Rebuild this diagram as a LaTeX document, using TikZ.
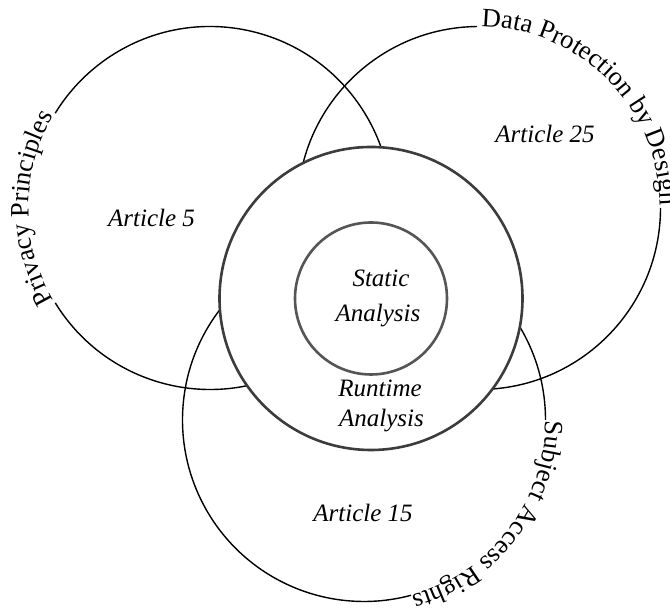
\documentclass[tikz,border=0pt]{standalone}
\usepackage{fontspec}
\setmainfont{Liberation Serif}
\usetikzlibrary{decorations.text}
\newcommand{\pathfont}{\fontsize{26.5}{30}\selectfont}
\definecolor{midgray}{RGB}{60,60,60}
\definecolor{innergray}{RGB}{85,85,85}
\tikzset{
  bigcircle/.style={draw=black, line width=1.4pt},
  midcircle/.style={draw=midgray, fill=white, line width=2.6pt},
  innercircle/.style={draw=innergray, fill=white, line width=2.6pt},
  label/.style={font=\itshape\fontsize{25}{30}\selectfont, inner sep=0pt, anchor=base},
  arctext/.style={decorate, decoration={text along path, text align=center, text={|\pathfont|#1}}}
}
\begin{document}
\begin{tikzpicture}[x=1pt, y=1pt]
  \useasboundingbox (0,0) rectangle (670,609);
  \fill[white] (0,0) rectangle (670,609);
  \coordinate (C1) at (210,401);
  \coordinate (C2) at (479,401);
  \coordinate (C3) at (364,189);
  \coordinate (M) at (371,310.5);
  % big circles with gaps
  \draw[bigcircle] (C1) ++(-148.5:181.5pt) arc[start angle=-148.5, end angle=148.5, radius=181.5pt];
  \draw[bigcircle] (C2) ++(90.6:181.5pt) arc[start angle=90.6, end angle=360, radius=181.5pt];
  \draw[bigcircle] (C3) ++(0:181.5pt) arc[start angle=0, end angle=285, radius=181.5pt];
  % texts along the circles
  \path[arctext={Privacy Principles}] (C1) ++(211.5:181.5pt) arc[start angle=211.5, end angle=148.5, radius=181.5pt];
  \path[arctext={Data Protection by Design}] (C2) ++(90:181.5pt) arc[start angle=90, end angle=0, radius=181.5pt];
  \path[arctext={Subject Access Rights}] (C3) ++(0:181.5pt) arc[start angle=0, end angle=-75, radius=181.5pt];
  % analysis circles
  \node[midcircle, circle, minimum size=303pt, inner sep=0pt] (mid) at (M) {};
  \node[innercircle, circle, minimum size=152pt, inner sep=0pt] (inner) at (M) {};
  % labels
  \node[label] (a5) at (151.5,382) {Article 5};
  \node[label] (a25) at (545,466) {Article 25};
  \node[label] (a15) at (363,87) {Article 15};
  \node[label] (s1) at (381,322) {Static};
  \node[label] (s2) at (378,287) {Analysis};
  \node[label] (r1) at (380,212) {Runtime};
  \node[label] (r2) at (381.5,182) {Analysis};
\end{tikzpicture}
\end{document}
